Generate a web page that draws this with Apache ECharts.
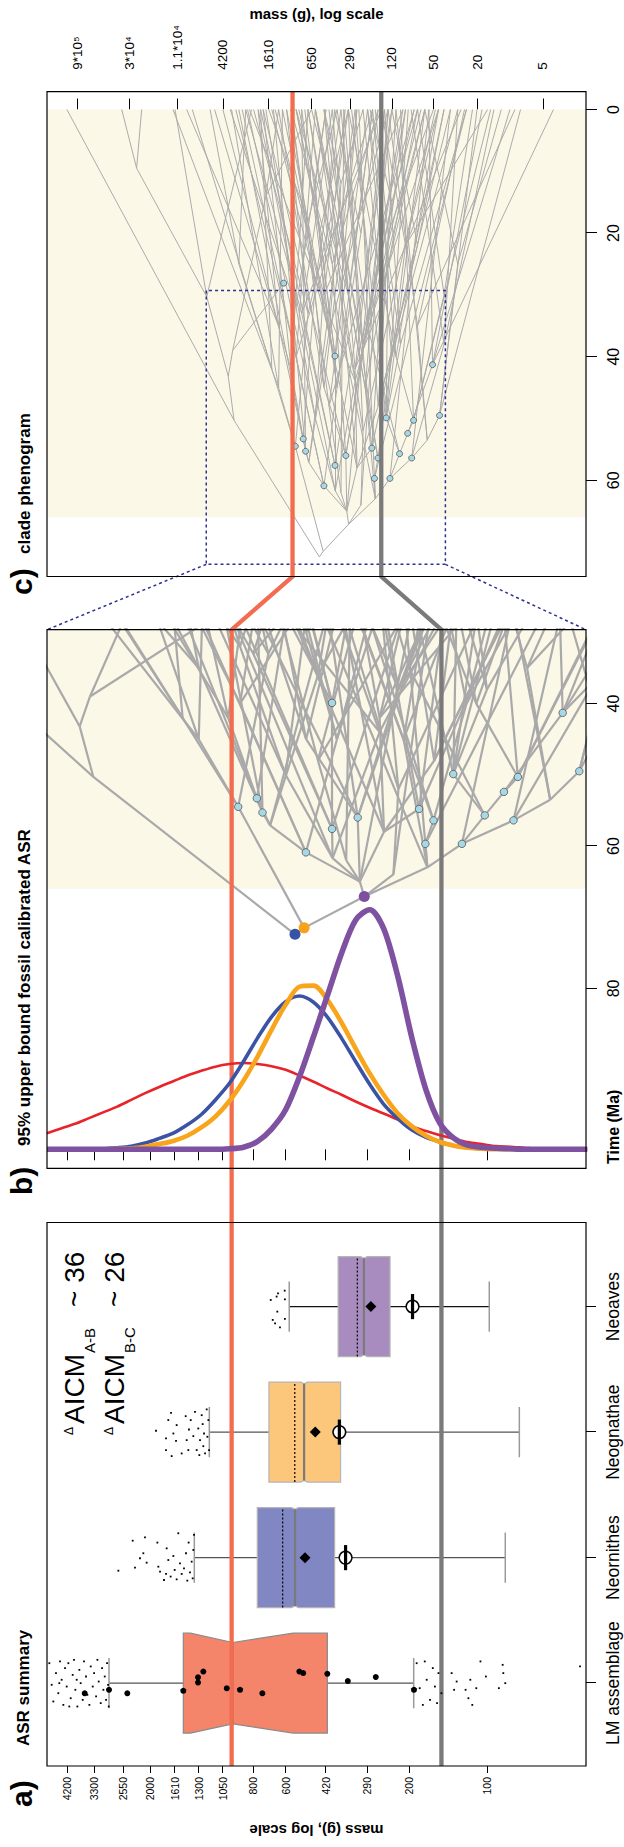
<!DOCTYPE html>
<html>
<head>
<meta charset="utf-8">
<script src="https://cdn.jsdelivr.net/npm/echarts@6.0.0/dist/echarts.min.js"></script>
<style>
html, body { margin: 0; padding: 0; width: 624px; height: 1847px; overflow: hidden; background: #fff; }
/* figure is drawn landscape and turned a quarter turn, like the original page */
#chart { position: absolute; left: 0; top: 0; width: 1847px; height: 624px;
  transform-origin: 0 0; transform: translate(0, 1847px) rotate(-90deg); }
</style>
</head>
<body>
<div id="chart"></div>
<script>
var FONT = 'Liberation Sans, Arial, Helvetica, sans-serif';
var L = function (m) { return Math.log10(m); };

// ---- panel a : ASR summary (masses in g) ----
var groups = ['LM assemblage', 'Neornithes', 'Neognathae', 'Neoaves'];
var boxColor = ['#f5856a', '#8087c2', '#fdc77b', '#a98cbf'];
var whiskerHigh = [2888, 1352, 1183, 581];
var q3 = [1491, 772, 696, 376];
var notchHigh = [1400, 570, 525, 308];
var median = [961, 552, 509, 299];
var notchLow = [561, 535, 494, 290];
var q1 = [414, 388, 368, 237];
var whiskerLow = [192, 85, 75, 98];
var dottedMass = [null, 616, 553, 317];
var diamondMass = [null, 505, 461, 281];
var circleMass = [null, 352, 372, 194];
var notchHalf = [0.324, 0.385, 0.385, 0.385];

// big black points on LM box: [offset from category, mass]
var lmBig = [[-0.080, 3585], [-0.053, 2888], [-0.080, 2454], [-0.061, 1491], [0.048, 1308], [0.005, 1308],
  [0.092, 1248], [-0.040, 1013], [-0.053, 900], [-0.080, 738], [0.092, 531], [0.080, 513], [0.074, 414],
  [0.018, 345], [0.050, 269], [-0.053, 191.5]];
// jittered small points: [offset, mass]
var lmSmall = [[0.159, 4911], [-0.013, 4810], [-0.146, 4740], [0.080, 4629], [-0.080, 4534], [0.173, 4467],
  [0.027, 4401], [-0.173, 4335], [0.120, 4271], [-0.027, 4208], [0.159, 4146], [-0.120, 4061], [0.066, 3990],
  [0.186, 3943], [-0.053, 3896], [-0.186, 3827], [0.106, 3760], [0, 3716], [-0.133, 3650], [0.173, 3607],
  [0.053, 3543], [-0.093, 3501], [-0.173, 3439], [0.133, 3398], [-0.027, 3338], [0.080, 3298], [-0.106, 3240],
  [0.186, 3202], [0.013, 3165], [-0.159, 3109], [0.120, 3072], [-0.053, 3036], [0.053, 3000], [-0.133, 2965],
  [0.159, 2938], [-0.013, 2912], [-0.186, 2895], [0.027, 3850], [-0.186, 4111], [0, 4494],
  [0.159, 187], [-0.040, 182], [-0.173, 177], [0.173, 174], [0.027, 171], [-0.133, 166], [0.120, 162],
  [-0.027, 159], [-0.159, 156], [0.080, 154], [-0.080, 150], [0.080, 137], [-0.053, 134], [0.013, 131],
  [-0.053, 121], [-0.120, 118], [0.027, 116], [-0.173, 114], [-0.040, 110], [0.173, 106], [0.053, 101],
  [-0.040, 90], [0.146, 87], [0.080, 86.5], [0, 85], [0.133, 43.7]];
var neornSmall = [[-0.104, 2657], [0.135, 2339], [-0.080, 2292], [-0.005, 2192], [0.035, 2128], [0.162, 2097],
  [-0.040, 2066], [0.120, 1878], [-0.072, 1862], [-0.112, 1834], [-0.178, 1771], [-0.130, 1739], [0.074, 1729],
  [-0.019, 1704], [-0.151, 1669], [0.013, 1629], [-0.098, 1610], [-0.173, 1582], [0.194, 1559], [-0.045, 1536],
  [-0.130, 1513], [-0.085, 1482], [0.035, 1456], [-0.183, 1439], [0.120, 1422], [-0.117, 1405], [-0.032, 1384],
  [-0.165, 1372], [0.061, 1364], [0.181, 1356]];
var neognSmall = [[0.011, 1901], [-0.050, 1739], [-0.143, 1739], [0.096, 1704], [0.154, 1663], [-0.191, 1654],
  [-0.011, 1629], [-0.069, 1591], [0.056, 1582], [-0.170, 1513], [0.127, 1460], [-0.064, 1447], [-0.143, 1426],
  [0.021, 1418], [0.096, 1396], [-0.032, 1364], [0.162, 1344], [-0.143, 1324], [0.029, 1305], [-0.183, 1293],
  [-0.064, 1285], [0.135, 1266], [0.064, 1255], [-0.112, 1248], [-0.011, 1240], [-0.170, 1229], [0.181, 1211],
  [-0.037, 1204], [0.096, 1193], [-0.143, 1186]];
var neoavesSmall = [[0.053, 685], [-0.106, 673], [-0.133, 659], [0.080, 650], [-0.040, 646], [0.106, 642],
  [-0.165, 631], [0.127, 605], [0.058, 604], [-0.098, 604]];

// axis ticks
var abTickMass = [4200, 3300, 2550, 2000, 1610, 1300, 1050, 800, 600, 420, 290, 200, 100];
var cTickMass = [90000, 30000, 11000, 4200, 1610, 650, 290, 120, 50, 20, 5];
var cTickLabel = ['9*10\u2075', '3*10\u2074', '1.1*10\u2074', '4200', '1610', '650', '290', '120', '50', '20', '5'];
var bTimeTicks = [40, 60, 80];
var cTimeTicks = [0, 20, 40, 60];
var refMass = [970, 150];           // orange and grey reference levels
var kpgTime = 66;                    // start of shaded Cenozoic

// ---- panel b : ASR densities over mass ----
var curveMass = [5013, 4425, 3906, 3448, 3043, 2685, 2370, 2093, 1847, 1630, 1439, 1270, 1121, 989, 873, 771,
  680, 600, 530, 468, 413, 365, 322, 284, 251, 221, 195, 172, 152, 134, 119, 105, 92, 81.5, 72, 63.5, 56, 49.5, 43.7, 41];
var densRed = [0.031, 0.040, 0.049, 0.060, 0.071, 0.082, 0.095, 0.108, 0.120, 0.131, 0.142, 0.151, 0.159, 0.164,
  0.166, 0.164, 0.160, 0.153, 0.142, 0.130, 0.117, 0.105, 0.092, 0.080, 0.069, 0.057, 0.044, 0.035, 0.027, 0.020,
  0.014, 0.010, 0.006, 0.005, 0.003, 0.001, 0.001, 0, 0, 0];
var densBlue = [0, 0, 0, 0.001, 0.001, 0.003, 0.006, 0.012, 0.021, 0.031, 0.047, 0.067, 0.095, 0.127, 0.169, 0.214,
  0.255, 0.284, 0.295, 0.283, 0.254, 0.214, 0.169, 0.125, 0.087, 0.059, 0.037, 0.023, 0.014, 0.007, 0.003, 0.001,
  0, 0, 0, 0, 0, 0, 0, 0];
var densOrange = [0, 0, 0, 0, 0, 0.001, 0.002, 0.005, 0.010, 0.016, 0.026, 0.042, 0.063, 0.093, 0.132, 0.178,
  0.230, 0.278, 0.313, 0.315, 0.287, 0.244, 0.194, 0.146, 0.105, 0.069, 0.044, 0.026, 0.014, 0.007, 0.003, 0.001,
  0, 0, 0, 0, 0, 0, 0, 0];
var densPurple = [0, 0, 0, 0, 0, 0, 0, 0, 0, 0, 0, 0, 0, 0.001, 0.004, 0.015, 0.039, 0.076, 0.140, 0.217, 0.297,
  0.377, 0.441, 0.461, 0.425, 0.332, 0.214, 0.114, 0.050, 0.021, 0.008, 0.004, 0.002, 0.001, 0, 0, 0, 0, 0, 0];

// ---- phenogram: [parent index, time (Ma), mass (g)] ----
var treeNodes = [
  [-1, 72.4, 552], [0, 71.5, 509], [0, 50.3, 3320], [2, 0, 112000], [2, 43.2, 3750], [4, 39.0, 3420],
  [5, 28.1, 1168], [5, 14, 1700], [7, 0, 650], [7, 0, 1300], [4, 30.3, 5900], [10, 9.5, 25800],
  [11, 0, 35300], [11, 0, 23200], [10, 0, 11500], [10, 0, 2300],
  [1, 54.5, 915], [16, 42, 1500], [17, 25, 3000], [18, 0, 5500], [18, 0, 2600], [17, 0, 1900],
  [16, 33, 700], [22, 0, 1100], [22, 15, 400], [24, 0, 300], [24, 0, 650],
  [1, 67.1, 298], [27, 65.0, 310], [28, 60.9, 501], [29, 57.1, 689], [30, 55.3, 737], [30, 53.3, 775],
  [31, 35, 1300], [33, 0, 4200], [33, 0, 9000], [33, 0, 2000], [31, 0, 1450], [32, 28, 600], [38, 0, 1000],
  [38, 0, 350], [32, 0, 3000], [29, 45, 380], [42, 0, 800], [42, 0, 180], [28, 61.7, 395], [45, 57.6, 397],
  [46, 39.9, 397], [47, 0, 250], [47, 0, 1500], [47, 20, 550], [50, 0, 900], [50, 0, 300], [46, 0, 120],
  [45, 50, 600], [54, 0, 2500], [54, 0, 400], [28, 56.0, 316], [57, 38, 220], [58, 0, 90], [58, 0, 600],
  [58, 0, 45], [57, 0, 1800], [57, 25, 420], [63, 0, 700], [63, 0, 160], [28, 58, 250], [66, 54.8, 183],
  [67, 0, 40], [67, 0, 350], [67, 30, 150], [70, 0, 220], [70, 0, 60], [66, 0, 1200],
  [27, 63.0, 170], [74, 59.7, 173], [75, 56.4, 161], [76, 40, 120], [77, 0, 30], [77, 0, 200], [76, 0, 500],
  [75, 0, 25], [74, 59.7, 125], [82, 56.4, 79], [83, 53.5, 57], [84, 49.5, 44], [85, 0, 8], [85, 0, 20],
  [85, 25, 30], [88, 0, 12], [88, 0, 60], [84, 0, 110], [83, 0, 35], [82, 55.7, 102], [93, 52.4, 86],
  [94, 50.3, 76], [95, 0, 15], [95, 0, 100], [95, 30, 40], [98, 0, 22], [98, 0, 70], [94, 41.3, 51],
  [101, 0, 4], [101, 0, 18], [101, 0, 55], [93, 49.9, 135], [105, 0, 280], [105, 0, 85], [105, 20, 130],
  [108, 0, 170], [108, 0, 50], [74, 0, 900],
  [42, 30, 500], [112, 0, 1400], [112, 0, 320], [112, 0, 95],
  [54, 32, 900], [116, 0, 3600], [116, 0, 1700], [116, 0, 480],
  [66, 42, 260], [120, 0, 140], [120, 0, 75], [120, 0, 420], [120, 0, 28],
  [77, 22, 90], [125, 0, 45], [125, 0, 150], [125, 0, 16],
  [84, 35, 70], [129, 0, 130], [129, 0, 26], [129, 0, 9],
  [17, 0, 8000], [63, 0, 1000], [70, 0, 90], [58, 0, 330], [47, 0, 750], [105, 0, 60], [101, 0, 10],
  [45, 0, 2000], [29, 0, 2800], [28, 0, 140], [74, 0, 240], [82, 0, 55], [31, 0, 800], [30, 0, 260],
  [57, 0, 95], [46, 0, 1900], [66, 0, 500], [22, 0, 2200],
  [29, 40, 900], [151, 0, 3200], [151, 0, 600], [151, 0, 180],
  [30, 36, 450], [155, 0, 1100], [155, 0, 130], [155, 12, 350], [158, 0, 500], [158, 0, 220],
  [45, 44, 260], [161, 0, 700], [161, 0, 60], [161, 0, 2400],
  [46, 33, 800], [165, 0, 2600], [165, 0, 420], [165, 0, 150],
  [57, 45, 500], [169, 0, 1300], [169, 0, 250], [169, 18, 700], [172, 0, 1600], [172, 0, 380],
  [66, 48, 160], [175, 0, 35], [175, 0, 260], [175, 0, 110], [175, 22, 70], [179, 0, 40], [179, 0, 120],
  [74, 45, 210], [182, 0, 600], [182, 0, 70], [182, 0, 130],
  [76, 30, 300], [186, 0, 900], [186, 0, 180], [186, 0, 450],
  [83, 38, 40], [190, 0, 14], [190, 0, 30], [190, 0, 80],
  [93, 35, 200], [194, 0, 380], [194, 0, 120], [194, 0, 65],
  [95, 40, 110], [198, 0, 180], [198, 0, 45], [198, 0, 300],
  [105, 38, 100], [202, 0, 25], [202, 0, 200], [202, 0, 140],
  [32, 42, 1000], [206, 0, 1800], [206, 0, 5000], [206, 0, 700],
  [16, 45, 1300], [210, 0, 3500], [210, 0, 1200], [210, 0, 12000],
  [28, 62, 350], [214, 48, 450], [214, 0, 330], [215, 0, 1000], [215, 0, 200], [215, 0, 75],
  [27, 64, 230], [220, 52, 220], [220, 0, 130], [221, 0, 600], [221, 0, 48], [221, 0, 300],
  [42, 20, 230], [226, 0, 160], [226, 0, 400],
  [112, 12, 600], [229, 0, 850], [229, 0, 480],
  [58, 15, 120], [232, 0, 70], [232, 0, 190]
];
var fossilTime = [28.1, 39.9, 41.3, 49.9, 50.3, 49.5, 53.3, 54.5, 55.3, 52.4, 54.8, 56.4, 56.0, 55.7, 56.4, 57.6, 59.7, 59.7, 60.9];
var fossilMass = [1168, 397, 51, 135, 76, 44, 775, 915, 737, 86, 183, 161, 316, 102, 79, 397, 173, 125, 501];
var cladeNodes = [0, 1, 27];
var cladeColors = ['#3953a4', '#f8a21b', '#7e4fa0'];
var zoomRectTime = [29.3, 73.6];
var zoomRectMass = [5960, 38.9];

// ---- layout ----
var gridA = { left: 81, top: 47, width: 543.5, height: 539 };
var gridB = { left: 678.7, top: 47, width: 538.6, height: 539 };
var gridC = { left: 1270.5, top: 47, width: 484.8, height: 539 };
var catRange = [0.34, 4.67];
var abLog = [1.6175, 3.7002];
var cLog = [0.3051, 5.2306];
var bTime = [29.62, 105.27];
var cTime = [-2.88, 75.57];
var densRange = [-0.0366, 1];

var abTickLog = abTickMass.map(L);
var cTickLog = cTickMass.map(L);
function pick(list, labels) {
  return function (v) {
    for (var i = 0; i < list.length; i++) if (Math.abs(L(list[i]) - v) < 1e-6) return labels[i];
    return '';
  };
}
var tickStyle = { color: '#000', width: 1 };

var chart = echarts.init(document.getElementById('chart'), null, { renderer: 'svg', width: 1847, height: 624 });

function segs() {
  var out = [];
  treeNodes.forEach(function (n) {
    if (n[0] < 0) return;
    var p = treeNodes[n[0]];
    out.push({ coords: [[p[1], L(p[2])], [n[1], L(n[2])]] });
  });
  return out;
}
function fossils() {
  return fossilTime.map(function (t, i) { return [t, L(fossilMass[i])]; });
}
function curve(d) {
  return curveMass.map(function (m, i) { return [d[i], L(m)]; });
}
function jit(list, cat) {
  return list.map(function (d) { return [cat + d[0], L(d[1])]; });
}

function renderCream(params, api) {
  var cs = params.coordSys;
  var x1 = api.coord([api.value(0), api.value(2)])[0];
  var x2 = api.coord([api.value(1), api.value(2)])[0];
  return { type: 'rect', shape: { x: Math.min(x1, x2), y: cs.y, width: Math.abs(x2 - x1), height: cs.height },
    style: { fill: '#fbf8e8' } };
}

function renderBox(params, api) {
  var i = params.dataIndex, c = i + 1, w = 0.398, wn = notchHalf[i], cap = 0.2;
  function P(dx, m) { return api.coord([c + dx, L(m)]); }
  function seg(a, b, style) { return { type: 'line', shape: { x1: a[0], y1: a[1], x2: b[0], y2: b[1] }, style: style }; }
  var wStyle = { stroke: i === 3 ? '#111' : '#555', lineWidth: 1.2 };
  var capStyle = { stroke: '#9a9a9a', lineWidth: 1.5 };
  var kids = [
    seg(P(0, q3[i]), P(0, whiskerHigh[i]), wStyle),
    seg(P(0, q1[i]), P(0, whiskerLow[i]), wStyle),
    seg(P(-cap, whiskerHigh[i]), P(cap, whiskerHigh[i]), capStyle),
    seg(P(-cap, whiskerLow[i]), P(cap, whiskerLow[i]), capStyle),
    { type: 'polygon', shape: { points: [P(-w, q3[i]), P(w, q3[i]), P(w, notchHigh[i]), P(wn, median[i]),
      P(w, notchLow[i]), P(w, q1[i]), P(-w, q1[i]), P(-w, notchLow[i]), P(-wn, median[i]), P(-w, notchHigh[i])] },
      style: { fill: boxColor[i], stroke: i === 0 ? '#8a8a8a' : '#b4b4b4', lineWidth: 1.2 } },
    seg(P(-wn, median[i]), P(wn, median[i]), { stroke: '#7a7a7a', lineWidth: 2.2 })
  ];
  if (dottedMass[i]) kids.push(seg(P(-w, dottedMass[i]), P(w, dottedMass[i]), { stroke: '#000', lineWidth: 1.2, lineDash: [2, 2] }));
  if (diamondMass[i]) {
    var d = P(0, diamondMass[i]);
    kids.push({ type: 'polygon', shape: { points: [[d[0], d[1] - 5.5], [d[0] + 5.5, d[1]], [d[0], d[1] + 5.5], [d[0] - 5.5, d[1]]] },
      style: { fill: '#000' } });
  }
  if (circleMass[i]) {
    var o = P(0, circleMass[i]);
    kids.push({ type: 'circle', shape: { cx: o[0], cy: o[1], r: 6.3 }, style: { fill: '#fff', stroke: '#000', lineWidth: 1.5 } });
    kids.push(seg(P(-0.1, circleMass[i]), P(0.1, circleMass[i]), { stroke: '#000', lineWidth: 3.2 }));
  }
  return { type: 'group', children: kids };
}

var option = {
  animation: false,
  backgroundColor: '#fff',
  textStyle: { fontFamily: FONT },
  grid: [gridA, gridB, gridC],
  xAxis: [
    { gridIndex: 0, type: 'value', min: catRange[0], max: catRange[1], position: 'bottom',
      axisLine: { show: false }, splitLine: { show: false },
      axisTick: { show: true, length: 10, customValues: [1, 2, 3, 4], lineStyle: tickStyle },
      axisLabel: { customValues: [1, 2, 3, 4], formatter: function (v) { return groups[Math.round(v) - 1]; },
        fontSize: 17.5, color: '#000', margin: 18 } },
    { gridIndex: 1, type: 'value', inverse: true, min: bTime[0], max: bTime[1], position: 'bottom',
      axisLine: { show: false }, splitLine: { show: false },
      axisTick: { show: true, length: 11, customValues: bTimeTicks, lineStyle: tickStyle },
      axisLabel: { customValues: bTimeTicks, fontSize: 16, color: '#000', margin: 19 } },
    { gridIndex: 1, type: 'value', min: densRange[0], max: densRange[1], show: false, position: 'top' },
    { gridIndex: 2, type: 'value', inverse: true, min: cTime[0], max: cTime[1], position: 'bottom',
      axisLine: { show: false }, splitLine: { show: false },
      axisTick: { show: true, length: 11, customValues: cTimeTicks, lineStyle: tickStyle },
      axisLabel: { customValues: cTimeTicks, fontSize: 16, color: '#000', margin: 19 } }
  ],
  yAxis: [
    { gridIndex: 0, type: 'value', min: abLog[0], max: abLog[1], position: 'left',
      axisLine: { show: false }, splitLine: { show: false },
      axisTick: { show: true, length: 7, customValues: abTickLog, lineStyle: tickStyle },
      axisLabel: { customValues: abTickLog, formatter: pick(abTickMass, abTickMass.map(String)), fontSize: 10.5, color: '#000', margin: 11 },
      name: 'mass (g), log scale', nameLocation: 'middle', nameRotate: 90, nameGap: 57,
      nameTextStyle: { fontSize: 15, fontWeight: 'bold', color: '#000' } },
    { gridIndex: 1, type: 'value', min: abLog[0], max: abLog[1], position: 'left',
      axisLine: { show: false }, splitLine: { show: false },
      axisTick: { show: true, length: 11, customValues: abTickLog, lineStyle: tickStyle },
      axisLabel: { show: false } },
    { gridIndex: 2, type: 'value', min: cLog[0], max: cLog[1], position: 'right',
      axisLine: { show: false }, splitLine: { show: false },
      axisTick: { show: true, length: 11, customValues: cTickLog, lineStyle: tickStyle },
      axisLabel: { customValues: cTickLog, formatter: pick(cTickMass, cTickLabel), fontSize: 13.5, color: '#000', margin: 22 },
      name: 'mass (g), log scale', nameLocation: 'middle', nameRotate: -90, nameGap: 70,
      nameTextStyle: { fontSize: 15, fontWeight: 'bold', color: '#000' } }
  ],
  series: [
    { type: 'custom', xAxisIndex: 1, yAxisIndex: 1, renderItem: renderCream, data: [[kpgTime, bTime[0], 2]], z: 1, silent: true },
    { type: 'custom', xAxisIndex: 3, yAxisIndex: 2, renderItem: renderCream, data: [[kpgTime, 0, 2]], z: 1, silent: true },
    { type: 'lines', coordinateSystem: 'cartesian2d', xAxisIndex: 1, yAxisIndex: 1, data: segs(), clip: true,
      lineStyle: { color: '#a9a9a9', width: 2.2, opacity: 1 }, silent: true, z: 2 },
    { type: 'lines', coordinateSystem: 'cartesian2d', xAxisIndex: 3, yAxisIndex: 2, data: segs(), clip: true,
      lineStyle: { color: '#ababab', width: 1, opacity: 1 }, silent: true, z: 2 },
    { type: 'scatter', xAxisIndex: 1, yAxisIndex: 1, data: fossils(), symbolSize: 7.5, clip: true, z: 3, silent: true,
      itemStyle: { color: '#a7d8e8', borderColor: '#555', borderWidth: 0.8, opacity: 1 } },
    { type: 'scatter', xAxisIndex: 3, yAxisIndex: 2, data: fossils(), symbolSize: 6, clip: true, z: 3, silent: true,
      itemStyle: { color: '#a7d8e8', borderColor: '#555', borderWidth: 0.8, opacity: 1 } },
    { type: 'line', xAxisIndex: 3, yAxisIndex: 2, showSymbol: false, silent: true, z: 3,
      data: [[zoomRectTime[0], L(zoomRectMass[0])], [zoomRectTime[1], L(zoomRectMass[0])],
             [zoomRectTime[1], L(zoomRectMass[1])], [zoomRectTime[0], L(zoomRectMass[1])],
             [zoomRectTime[0], L(zoomRectMass[0])]],
      lineStyle: { color: '#2e3192', width: 1.5, type: [3, 3] } },
    { type: 'line', xAxisIndex: 2, yAxisIndex: 1, data: curve(densRed), smooth: 0.3, showSymbol: false, silent: true, z: 5,
      lineStyle: { color: '#e8232a', width: 2.6 } },
    { type: 'line', xAxisIndex: 2, yAxisIndex: 1, data: curve(densBlue), smooth: 0.3, showSymbol: false, silent: true, z: 5,
      lineStyle: { color: '#3a53a4', width: 3.6 } },
    { type: 'line', xAxisIndex: 2, yAxisIndex: 1, data: curve(densOrange), smooth: 0.3, showSymbol: false, silent: true, z: 5,
      lineStyle: { color: '#f8a51c', width: 4.6 } },
    { type: 'line', xAxisIndex: 2, yAxisIndex: 1, data: curve(densPurple), smooth: 0.3, showSymbol: false, silent: true, z: 5,
      lineStyle: { color: '#7e51a1', width: 5.6 } },
    { type: 'scatter', xAxisIndex: 1, yAxisIndex: 1, symbolSize: 11, z: 6, silent: true,
      data: cladeNodes.map(function (k, i) {
        return { value: [treeNodes[k][1], L(treeNodes[k][2])], itemStyle: { color: cladeColors[i], opacity: 1 } };
      }) },
    { type: 'custom', xAxisIndex: 0, yAxisIndex: 0, renderItem: renderBox, z: 2, silent: true,
      data: median.map(function (m, i) { return [i + 1, L(m)]; }) },
    { type: 'scatter', xAxisIndex: 0, yAxisIndex: 0, symbol: 'rect', symbolSize: 1.8, z: 4, silent: true,
      itemStyle: { color: '#000', opacity: 1 },
      data: jit(lmSmall, 1).concat(jit(neornSmall, 2), jit(neognSmall, 3), jit(neoavesSmall, 4)) },
    { type: 'scatter', xAxisIndex: 0, yAxisIndex: 0, symbolSize: 6, z: 4, silent: true,
      itemStyle: { color: '#000', opacity: 1 }, data: jit(lmBig, 1) }
  ]
};
chart.setOption(option);

// overlays placed through the axes' own conversion
function px(xi, yi, v) { return chart.convertToPixel({ xAxisIndex: xi, yAxisIndex: yi }, v); }
function text(s, x, y, size, bold, color) {
  return { type: 'text', x: x, y: y, silent: true, z: 20,
    style: { text: s, fontSize: size, fontWeight: bold ? 'bold' : 'normal', fontFamily: FONT, fill: color || '#000',
      align: 'left', verticalAlign: 'middle' } };
}
var els = [];
[gridA, gridB, gridC].forEach(function (g) {
  els.push({ type: 'rect', silent: true, z: 10, shape: { x: g.left, y: g.top, width: g.width, height: g.height },
    style: { fill: null, stroke: '#000', lineWidth: 1.2 } });
});
var refColors = ['#f26d4f', '#7a7a7a'];
refMass.forEach(function (m, k) {
  var y = L(m);
  els.push({ type: 'polyline', silent: true, z: 4,
    shape: { points: [px(0, 0, [catRange[0], y]), px(1, 1, [bTime[0], y]), px(3, 2, [cTime[1], y]), px(3, 2, [cTime[0], y])] },
    style: { stroke: refColors[k], lineWidth: 4.3, fill: null } });
});
[[zoomRectMass[0], abLog[1]], [zoomRectMass[1], abLog[0]]].forEach(function (pr) {
  var a = px(3, 2, [zoomRectTime[1], L(pr[0])]);
  var b = px(1, 1, [bTime[0], pr[1]]);
  els.push({ type: 'line', silent: true, z: 4, shape: { x1: a[0], y1: a[1], x2: b[0], y2: b[1] },
    style: { stroke: '#2e3192', lineWidth: 1.5, lineDash: [3, 3] } });
});
els.push(text('a)', 40, 21, 30, true));
els.push(text('ASR summary', 101, 23, 17, true));
els.push(text('b)', 652, 21, 30, true));
els.push(text('95% upper bound fossil calibrated ASR', 701, 24, 17, true));
els.push(text('c)', 1252, 21, 30, true));
els.push(text('clade phenogram', 1293, 24, 17, true));
els.push(text('Time (Ma)', 683, 613, 16, true));
els.push(text('\u0394', 412, 69, 12, false));
els.push(text('AICM', 423, 74, 28, false));
els.push(text('A-B', 494, 89, 15, false));
els.push(text('~ 36', 540, 74, 28, false));
els.push(text('\u0394', 412, 109, 12, false));
els.push(text('AICM', 423, 114, 28, false));
els.push(text('B-C', 494, 129, 15, false));
els.push(text('~ 26', 540, 114, 28, false));
chart.setOption({ graphic: { elements: els } });
</script>
</body>
</html>
